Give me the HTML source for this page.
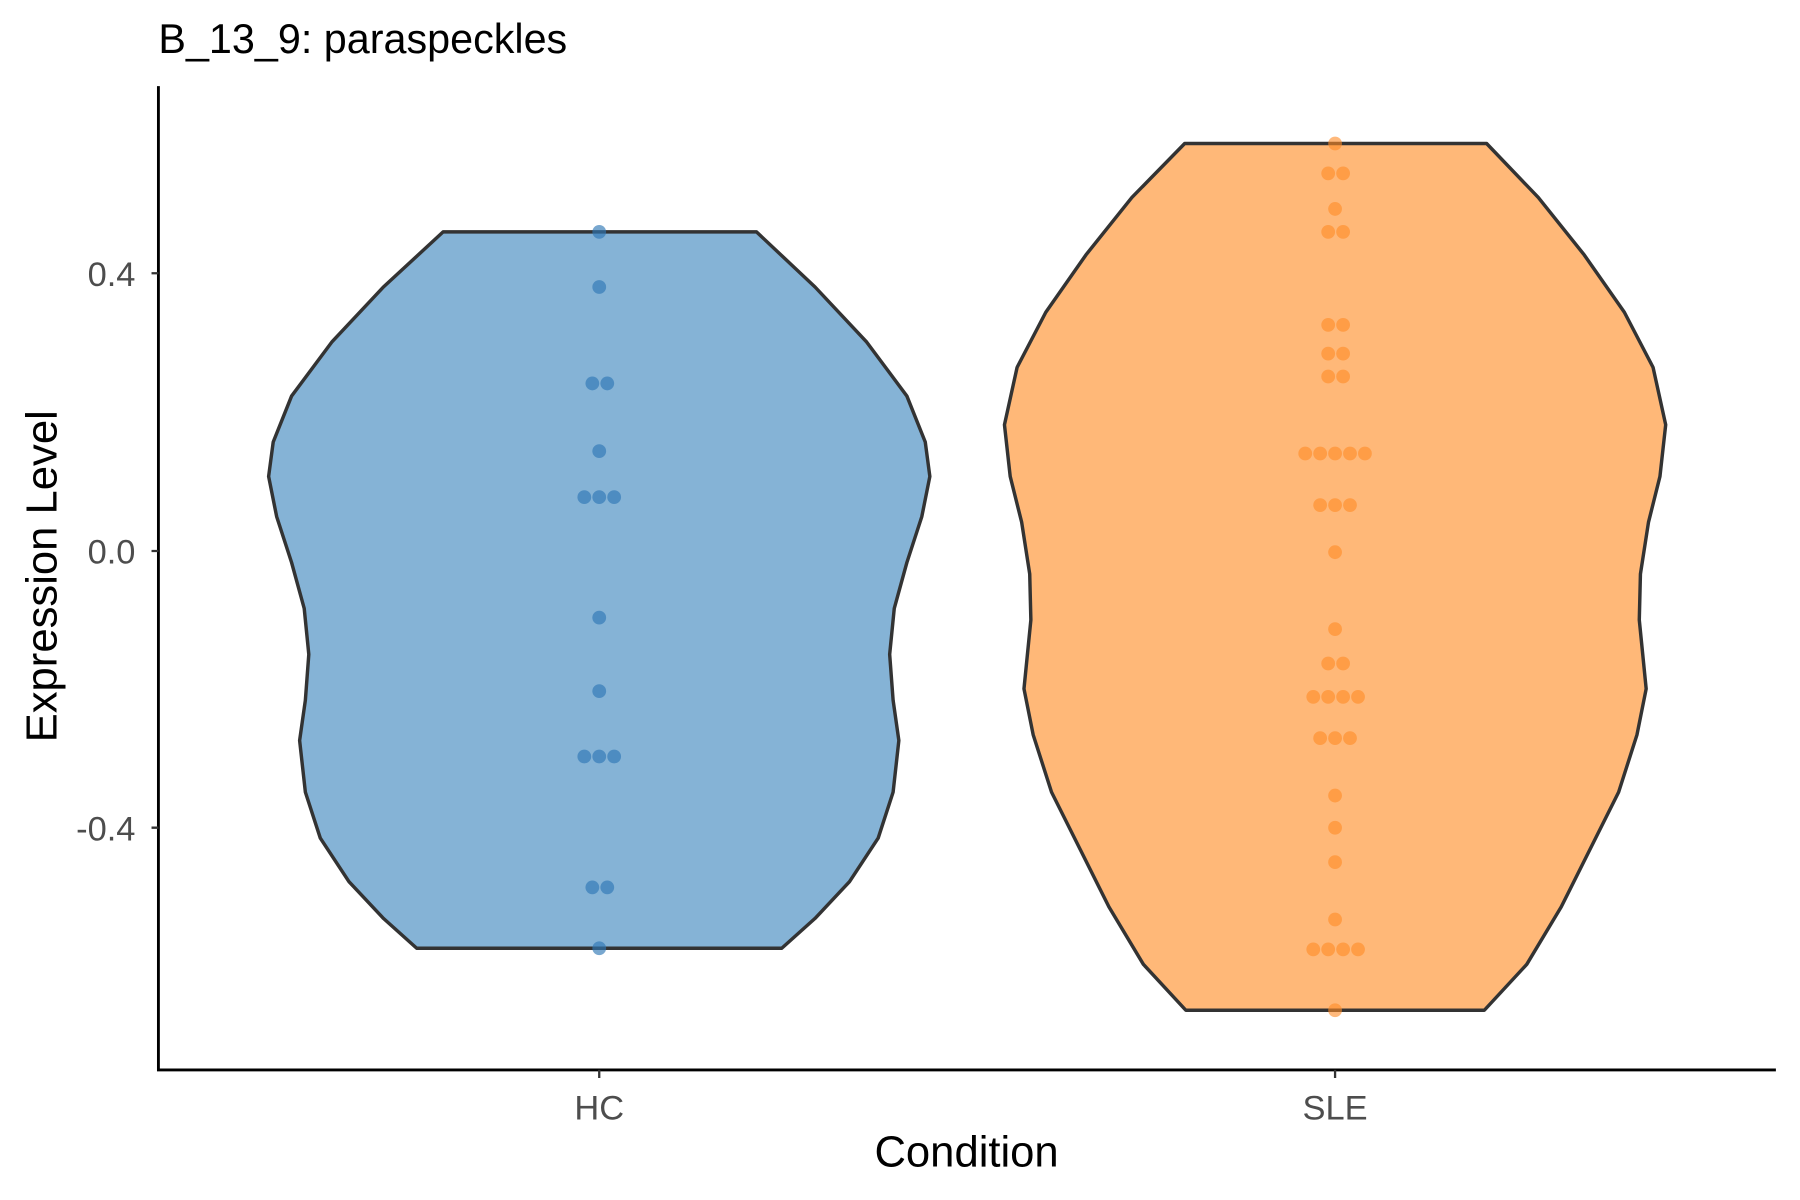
<!DOCTYPE html>
<html><head><style>html,body{margin:0;padding:0;background:#fff}svg{display:block}</style></head><body>
<svg width="1800" height="1200" viewBox="0 0 1568 1045.3" preserveAspectRatio="none" xmlns="http://www.w3.org/2000/svg" font-family="Liberation Sans, sans-serif">
<rect width="1568" height="1046" fill="#fff"/>
<text x="138" y="46" font-size="36" fill="#000">B_13_9: paraspeckles</text>
<polygon fill="#85b3d6" stroke="#333" stroke-width="3" stroke-linejoin="round" points="386,202 659,202 710,250 755,298 790,345 806,385 810,415 803,450 790,490 779,530 775,570 778,610 783,645 778,690 765,730 740,768 710,800 681,826 363,826 334,800 304,768 279,730 266,690 261,645 266,610 269,570 265,530 254,490 241,450 234,415 238,385 254,345 289,298 334,250"/>
<polygon fill="#ffb878" stroke="#333" stroke-width="3" stroke-linejoin="round" points="1032,125 1295,125 1340,172 1380,222 1415,272 1440,320 1451,370 1446,415 1436,455 1429,500 1428,540 1434,600 1426,640 1410,690 1385,740 1360,790 1330,840 1293,880 1033,880 996,840 966,790 941,740 916,690 900,640 892,600 898,540 897,500 890,455 880,415 875,370 886,320 911,272 946,222 986,172"/>
<g fill="#2f78b5" fill-opacity="0.65">
<circle cx="522" cy="202" r="6"/><circle cx="522" cy="250" r="6"/><circle cx="516" cy="334" r="6"/><circle cx="529" cy="334" r="6"/><circle cx="522" cy="393" r="6"/><circle cx="509" cy="433" r="6"/><circle cx="522" cy="433" r="6"/><circle cx="535" cy="433" r="6"/><circle cx="522" cy="538" r="6"/><circle cx="522" cy="602" r="6"/><circle cx="509" cy="659" r="6"/><circle cx="522" cy="659" r="6"/><circle cx="535" cy="659" r="6"/><circle cx="516" cy="773" r="6"/><circle cx="529" cy="773" r="6"/><circle cx="522" cy="826" r="6"/>
</g>
<g fill="#ff8a24" fill-opacity="0.6">
<circle cx="1163" cy="125" r="6"/><circle cx="1157" cy="151" r="6"/><circle cx="1170" cy="151" r="6"/><circle cx="1163" cy="182" r="6"/><circle cx="1157" cy="202" r="6"/><circle cx="1170" cy="202" r="6"/><circle cx="1157" cy="283" r="6"/><circle cx="1170" cy="283" r="6"/><circle cx="1157" cy="308" r="6"/><circle cx="1170" cy="308" r="6"/><circle cx="1157" cy="328" r="6"/><circle cx="1170" cy="328" r="6"/>
<circle cx="1137" cy="395" r="6"/><circle cx="1150" cy="395" r="6"/><circle cx="1163" cy="395" r="6"/><circle cx="1176" cy="395" r="6"/><circle cx="1189" cy="395" r="6"/>
<circle cx="1150" cy="440" r="6"/><circle cx="1163" cy="440" r="6"/><circle cx="1176" cy="440" r="6"/><circle cx="1163" cy="481" r="6"/><circle cx="1163" cy="548" r="6"/><circle cx="1157" cy="578" r="6"/><circle cx="1170" cy="578" r="6"/>
<circle cx="1144" cy="607" r="6"/><circle cx="1157" cy="607" r="6"/><circle cx="1170" cy="607" r="6"/><circle cx="1183" cy="607" r="6"/>
<circle cx="1150" cy="643" r="6"/><circle cx="1163" cy="643" r="6"/><circle cx="1176" cy="643" r="6"/><circle cx="1163" cy="693" r="6"/><circle cx="1163" cy="721" r="6"/><circle cx="1163" cy="751" r="6"/><circle cx="1163" cy="801" r="6"/>
<circle cx="1144" cy="827" r="6"/><circle cx="1157" cy="827" r="6"/><circle cx="1170" cy="827" r="6"/><circle cx="1183" cy="827" r="6"/><circle cx="1163" cy="880" r="6"/>
</g>
<g stroke="#000" stroke-width="2.5" fill="none"><path d="M138,75 V932 H1547"/></g>
<g stroke="#333" stroke-width="2"><path d="M132,238 H138 M132,480 H138 M132,721 H138 M522,932 V939 M1163,932 V939"/></g>
<g font-size="30" fill="#4d4d4d" text-anchor="end"><text x="118" y="249">0.4</text><text x="118" y="491">0.0</text><text x="118" y="732">-0.4</text></g>
<g font-size="30" fill="#4d4d4d" text-anchor="middle"><text x="522" y="975">HC</text><text x="1163" y="975">SLE</text></g>
<text x="842" y="1016" font-size="38" text-anchor="middle" fill="#000">Condition</text>
<text transform="translate(49,502) rotate(-90)" font-size="38" text-anchor="middle" fill="#000">Expression Level</text>
</svg>
</body></html>
